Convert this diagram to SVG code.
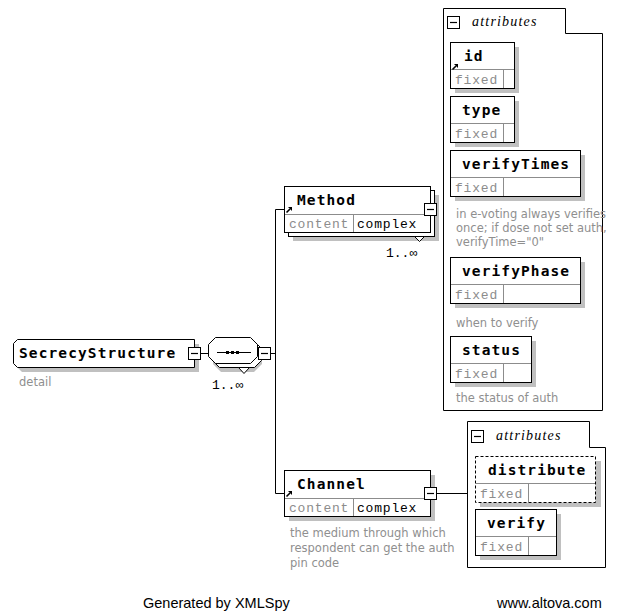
<svg xmlns="http://www.w3.org/2000/svg" width="622" height="613" viewBox="0 0 622 613">
  <style>
    .box { fill: #ffffff; stroke: #000000; stroke-width: 1; }
    .shadow { fill: #c0c0c0; stroke: none; }
    .div { stroke: #8c8c8c; stroke-width: 1; fill: none; }
    .wire { stroke: #000000; stroke-width: 1; fill: none; }
    .name { font-family: "DejaVu Sans Mono", "Liberation Mono", monospace; font-weight: bold; font-size: 14.5px; letter-spacing: 1.1px; fill: #000000; }
    .cell { font-family: "Liberation Mono", "DejaVu Sans Mono", monospace; font-size: 13px; letter-spacing: 0.8px; }
    .gray { fill: #8c8c8c; }
    .black { fill: #000000; }
    .tab { font-family: "Liberation Serif", "DejaVu Serif", serif; font-style: italic; font-size: 14px; letter-spacing: 1.2px; fill: #000000; }
    .doc { font-family: "DejaVu Sans", "Liberation Sans", sans-serif; font-size: 11.5px; fill: #8f8f8f; }
    .occ { font-family: "Liberation Mono", "DejaVu Sans Mono", monospace; font-size: 13px; fill: #000000; }
    .foot { font-family: "Liberation Sans", Arial, sans-serif; font-size: 14.5px; fill: #000000; }
  </style>
  <defs>
    <!-- collapse button -->
    <g id="minus">
      <rect x="0.5" y="0.5" width="12" height="12" fill="#ffffff" stroke="#000000" stroke-width="1"/>
      <line x1="12.5" y1="1" x2="12.5" y2="13" stroke="#000000" stroke-width="1"/>
      <line x1="1" y1="12.5" x2="13" y2="12.5" stroke="#000000" stroke-width="1"/>
      <line x1="3" y1="6.5" x2="10" y2="6.5" stroke="#000000" stroke-width="1.2"/>
    </g>
    <!-- reference arrow -->
    <g id="refArrow">
      <line x1="0.5" y1="6.5" x2="4" y2="3" stroke="#000000" stroke-width="1.6"/>
      <polygon points="2,1 6,1 6,5" fill="#000000"/>
    </g>
  </defs>

  <!-- connectors -->
  <g id="connectors">
    <path class="wire" d="M199,353.5 H208"/>
    <path class="wire" d="M271,353.5 H275.5"/>
    <path class="wire" d="M275.5,209.5 V493.5"/>
    <path class="wire" d="M275.5,209.5 H284"/>
    <path class="wire" d="M275.5,493.5 H284"/>
    <path class="wire" d="M437,493.5 H467"/>
  </g>

  <!-- root element -->
  <g id="SecrecyStructure">
    <path class="shadow" d="M22,344 H199 V372 H22 L18,368 V348 Z"/>
    <path class="box" d="M17.5,339.5 H194.5 V367.5 H17.5 L13.5,363.5 V343.5 Z"/>
    <text class="name" x="19" y="358">SecrecyStructure</text>
    <use href="#minus" x="188" y="347"/>
    <text class="doc" x="19" y="386">detail</text>
  </g>

  <!-- sequence compositor -->
  <g id="sequence">
    <polygon class="shadow" points="221,346 254,346 262,353 262,364 254,372 221,372 213,364 213,353"/>
    <polygon class="box" points="219.5,341.5 254.5,341.5 261.5,348.5 261.5,360.5 254.5,367.5 219.5,367.5 212.5,360.5 212.5,348.5"/>
    <polygon class="box" points="215.5,337.5 250.5,337.5 257.5,344.5 257.5,356.5 250.5,363.5 215.5,363.5 208.5,356.5 208.5,344.5"/>
    <line x1="217" y1="352.5" x2="251" y2="352.5" stroke="#000000" stroke-width="1"/>
    <rect x="226" y="351" width="3" height="3" fill="#000000"/>
    <rect x="231" y="351" width="3" height="3" fill="#000000"/>
    <rect x="236" y="351" width="3" height="3" fill="#000000"/>
    <polygon class="box" points="238.5,367.5 249.5,367.5 244,373.5"/>
    <use href="#minus" x="258" y="347"/>
    <text class="occ" x="212" y="389">1..∞</text>
  </g>

  <!-- Method element -->
  <g id="Method">
    <rect class="shadow" x="293" y="195" width="146" height="46"/>
    <rect class="box" x="288.5" y="190.5" width="146" height="46"/>
    <rect class="box" x="284.5" y="186.5" width="146" height="46"/>
    <line class="div" x1="285" y1="214.5" x2="430" y2="214.5"/>
    <line class="div" x1="353.5" y1="215" x2="353.5" y2="232"/>
    <use href="#refArrow" x="286" y="206"/>
    <text class="name" x="297" y="205">Method</text>
    <text class="cell gray" x="289" y="228">content</text>
    <text class="cell black" x="357" y="228">complex</text>
    <polygon class="box" points="414.5,236.5 424.5,236.5 419.5,241.5"/>
    <use href="#minus" x="424" y="203"/>
    <text class="occ" x="386" y="257">1..∞</text>
  </g>

  <!-- Channel element -->
  <g id="Channel">
    <rect class="shadow" x="289" y="475" width="146" height="46"/>
    <rect class="box" x="284.5" y="470.5" width="146" height="46"/>
    <line class="div" x1="285" y1="498.5" x2="430" y2="498.5"/>
    <line class="div" x1="353.5" y1="499" x2="353.5" y2="516"/>
    <use href="#refArrow" x="286" y="490"/>
    <text class="name" x="297" y="489">Channel</text>
    <text class="cell gray" x="289" y="512">content</text>
    <text class="cell black" x="357" y="512">complex</text>
    <use href="#minus" x="424" y="487"/>
    <text class="doc" x="290" y="537">the medium through which</text>
    <text class="doc" x="290" y="552">respondent can get the auth</text>
    <text class="doc" x="290" y="567">pin code</text>
  </g>

  <!-- attributes of Method -->
  <g id="MethodAttributes">
    <path class="box" d="M443.5,8.5 H565.5 V33.5 H602.5 V410.5 H443.5 Z"/>
    <use href="#minus" x="447" y="16"/>
    <text class="tab" x="472" y="26">attributes</text>
  </g>
  <g id="attr-id">
    <rect class="shadow" x="455" y="47" width="64" height="46"/>
    <rect class="box" x="450.5" y="42.5" width="64" height="46"/>
    <line class="div" x1="451" y1="69.5" x2="514" y2="69.5"/>
    <line class="div" x1="503.5" y1="70" x2="503.5" y2="88"/>
    <use href="#refArrow" x="452" y="63"/>
    <text class="name" x="464" y="61">id</text>
    <text class="cell gray" x="455" y="84">fixed</text>
  </g>
  <g id="attr-type">
    <rect class="shadow" x="455" y="101" width="64" height="46"/>
    <rect class="box" x="450.5" y="96.5" width="64" height="46"/>
    <line class="div" x1="451" y1="123.5" x2="514" y2="123.5"/>
    <line class="div" x1="503.5" y1="124" x2="503.5" y2="142"/>
    <text class="name" x="462" y="115">type</text>
    <text class="cell gray" x="455" y="138">fixed</text>
  </g>
  <g id="attr-verifyTimes">
    <rect class="shadow" x="455" y="155" width="130" height="46"/>
    <rect class="box" x="450.5" y="150.5" width="130" height="46"/>
    <line class="div" x1="451" y1="177.5" x2="580" y2="177.5"/>
    <line class="div" x1="503.5" y1="178" x2="503.5" y2="196"/>
    <text class="name" x="462" y="169">verifyTimes</text>
    <text class="cell gray" x="455" y="192">fixed</text>
    <text class="doc" x="456" y="218">in e-voting always verifies</text>
    <text class="doc" x="456" y="232">once; if dose not set auth,</text>
    <text class="doc" x="456" y="246">verifyTime="0"</text>
  </g>
  <g id="attr-verifyPhase">
    <rect class="shadow" x="455" y="262" width="130" height="46"/>
    <rect class="box" x="450.5" y="257.5" width="130" height="46"/>
    <line class="div" x1="451" y1="284.5" x2="580" y2="284.5"/>
    <line class="div" x1="503.5" y1="285" x2="503.5" y2="303"/>
    <text class="name" x="462" y="276">verifyPhase</text>
    <text class="cell gray" x="455" y="299">fixed</text>
    <text class="doc" x="456" y="327">when to verify</text>
  </g>
  <g id="attr-status">
    <rect class="shadow" x="455" y="341" width="81" height="46"/>
    <rect class="box" x="450.5" y="336.5" width="81" height="46"/>
    <line class="div" x1="451" y1="363.5" x2="531" y2="363.5"/>
    <line class="div" x1="503.5" y1="364" x2="503.5" y2="382"/>
    <text class="name" x="462" y="355">status</text>
    <text class="cell gray" x="455" y="378">fixed</text>
    <text class="doc" x="456" y="402">the status of auth</text>
  </g>

  <!-- attributes of Channel -->
  <g id="ChannelAttributes">
    <path class="box" d="M467.5,421.5 H589.5 V447.5 H605.5 V567.5 H467.5 Z"/>
    <use href="#minus" x="471" y="430"/>
    <text class="tab" x="496" y="440">attributes</text>
  </g>
  <g id="attr-distribute">
    <rect class="shadow" x="480" y="461" width="121" height="46"/>
    <rect x="475.5" y="456.5" width="120" height="46" fill="#ffffff" stroke="#000000" stroke-width="1" stroke-dasharray="3,2"/>
    <line class="div" x1="476" y1="483.5" x2="595" y2="483.5"/>
    <line class="div" x1="528.5" y1="484" x2="528.5" y2="502"/>
    <text class="name" x="488" y="475">distribute</text>
    <text class="cell gray" x="480" y="498">fixed</text>
  </g>
  <g id="attr-verify">
    <rect class="shadow" x="480" y="514" width="81" height="46"/>
    <rect class="box" x="475.5" y="509.5" width="81" height="46"/>
    <line class="div" x1="476" y1="536.5" x2="556" y2="536.5"/>
    <line class="div" x1="528.5" y1="537" x2="528.5" y2="555"/>
    <text class="name" x="487" y="528">verify</text>
    <text class="cell gray" x="480" y="551">fixed</text>
  </g>

  <!-- footer -->
  <text class="foot" x="143" y="608">Generated by XMLSpy</text>
  <text class="foot" x="497" y="608">www.altova.com</text>
</svg>
